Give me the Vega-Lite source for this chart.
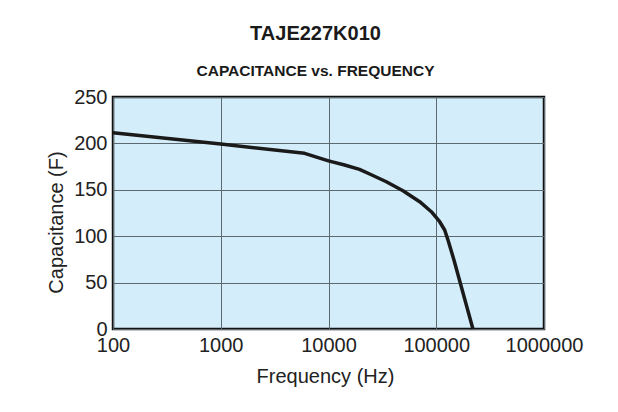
{
  "$schema": "https://vega.github.io/schema/vega-lite/v6.json",
  "autosize": {"type": "none"},
  "padding": {"left": 113, "top": 97, "right": 74, "bottom": 83},
  "width": 431,
  "height": 232,
  "background": "white",
  "title": {
    "text": "TAJE227K010",
    "subtitle": "CAPACITANCE vs. FREQUENCY",
    "font": "Liberation Sans",
    "fontSize": 20,
    "fontWeight": "bold",
    "color": "#1a1a1a",
    "subtitleFont": "Liberation Sans",
    "subtitleFontSize": 15.5,
    "subtitleFontWeight": "bold",
    "subtitleColor": "#1a1a1a",
    "subtitlePadding": 20,
    "anchor": "middle",
    "dx": -13,
    "offset": 8
  },
  "data": {
    "values": [
      {"frequency": 100, "capacitance": 211.5},
      {"frequency": 1000, "capacitance": 199.4},
      {"frequency": 6000, "capacitance": 189.3},
      {"frequency": 10000, "capacitance": 181.2},
      {"frequency": 14100, "capacitance": 176.7},
      {"frequency": 19400, "capacitance": 172.0},
      {"frequency": 24100, "capacitance": 167.0},
      {"frequency": 34400, "capacitance": 158.7},
      {"frequency": 49100, "capacitance": 149.0},
      {"frequency": 70200, "capacitance": 137.2},
      {"frequency": 90000, "capacitance": 126.4},
      {"frequency": 107600, "capacitance": 115.6},
      {"frequency": 119700, "capacitance": 106.7},
      {"frequency": 128500, "capacitance": 95.9},
      {"frequency": 146000, "capacitance": 74.4},
      {"frequency": 219000, "capacitance": 0}
    ]
  },
  "mark": {
    "type": "line",
    "color": "#1a1a1a",
    "strokeWidth": 3.5,
    "strokeJoin": "round",
    "strokeCap": "butt"
  },
  "encoding": {
    "x": {
      "field": "frequency",
      "type": "quantitative",
      "scale": {"type": "log", "domain": [100, 1000000], "nice": false},
      "axis": {
        "title": "Frequency (Hz)",
        "values": [100, 1000, 10000, 100000, 1000000],
        "format": "d",
        "domain": false,
        "ticks": false,
        "tickSize": 0,
        "labelPadding": 22.7,
        "labelBaseline": "alphabetic",
        "labelFlush": false,
        "labelOverlap": false,
        "titleBaseline": "alphabetic",
        "titleY": 53,
        "titleX": 212,
        "gridColor": "#5a6a70",
        "gridWidth": 1,
        "gridOpacity": 1
      }
    },
    "y": {
      "field": "capacitance",
      "type": "quantitative",
      "scale": {"domain": [0, 250], "nice": false},
      "axis": {
        "title": "Capacitance (F)",
        "values": [0, 50, 100, 150, 200, 250],
        "domain": false,
        "ticks": false,
        "tickSize": 0,
        "labelPadding": 6,
        "labelBaseline": "middle",
        "labelFlush": false,
        "labelOverlap": false,
        "titleBaseline": "middle",
        "titleAngle": -90,
        "titleX": -57,
        "titleY": 125,
        "gridColor": "#5a6a70",
        "gridWidth": 1,
        "gridOpacity": 1
      }
    }
  },
  "config": {
    "view": {"fill": "#d3edfa", "stroke": "#111111", "strokeWidth": 2.5},
    "axis": {
      "labelFont": "Liberation Sans",
      "labelFontSize": 20,
      "labelColor": "#222222",
      "titleFont": "Liberation Sans",
      "titleFontSize": 20,
      "titleFontWeight": "normal",
      "titleColor": "#222222"
    }
  }
}
